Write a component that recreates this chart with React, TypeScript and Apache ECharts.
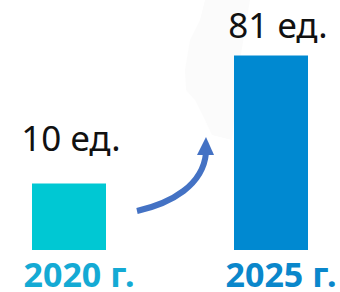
import React, { useEffect, useRef } from "react";
import * as echarts from "echarts";

const categories = ["2020 г.", "2025 г."];
const values = [10, 81];
const unit = "ед.";

const barColors = ["#00c8d3", "#0089d1"];
const labelColors = ["#14aad4", "#0a87cb"];
const valueLabelOffsets = [[2, -20], [7, -6]];
const AXIS_START = -27;

export default function App() {
  const ref = useRef<HTMLDivElement>(null);
  useEffect(() => {
    if (!ref.current) return;
    const chart = echarts.init(ref.current, null, { renderer: "svg" });
    const font = "'Noto Sans', 'Open Sans', sans-serif";
    chart.setOption({
      animation: false,
      backgroundColor: "#ffffff",
      grid: { left: 69, right: 69, top: 34, bottom: 42 },
      xAxis: {
        type: "category",
        boundaryGap: false,
        data: categories.map((c, i) => ({ value: c, textStyle: { color: labelColors[i] } })),
        axisLine: { show: false },
        axisTick: { show: false },
        axisLabel: {
          fontFamily: font,
          fontSize: 34,
          fontWeight: "bold",
          lineHeight: 30,
          margin: 9,
          padding: [0, 0, 0, 20],
        },
      },
      yAxis: { type: "value", min: AXIS_START, max: 93, startValue: AXIS_START, show: false },
      graphic: [
        {
          type: "polygon",
          z: -10,
          shape: {
            points: [
              [140, 0], [205, 0], [200, 20], [190, 40], [185, 70], [186, 90],
              [195, 100], [205, 120], [212, 135], [232, 140], [240, 60], [250, 0],
            ],
          },
          style: { fill: "#fbfbfb" },
        },
        {
          type: "bezierCurve",
          shape: { x1: 137, y1: 211, cpx1: 172, cpy1: 203, cpx2: 203, cpy2: 185, x2: 206, y2: 153 },
          style: { stroke: "#4472c4", lineWidth: 6, fill: "none" },
        },
        {
          type: "polygon",
          shape: { points: [[197, 155], [214, 155], [206, 137]] },
          style: { fill: "#4472c4" },
        },
      ],
      series: [
        {
          type: "bar",
          barWidth: 74,
          data: values.map((v, i) => ({
            value: v,
            itemStyle: { color: barColors[i] },
            label: { offset: valueLabelOffsets[i] },
          })),
          label: {
            show: true,
            position: "top",
            distance: 8,
            formatter: (p: any) => `${p.value} ${unit}`,
            fontFamily: font,
            fontSize: 35,
            color: "#111111",
          },
        },
      ],
    });
    return () => chart.dispose();
  }, []);
  return <div ref={ref} style={{ position: "fixed", left: 0, top: 0, width: 340, height: 292 }} />;
}
